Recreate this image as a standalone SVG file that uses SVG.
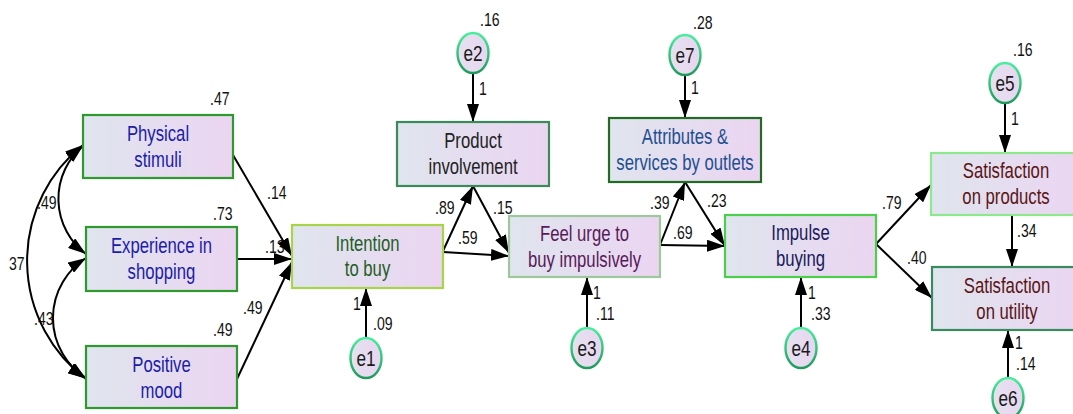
<svg xmlns="http://www.w3.org/2000/svg" width="1073" height="414" viewBox="0 0 1073 414">
  <defs>
    <linearGradient id="boxFill" x1="0" y1="0" x2="1" y2="0">
      <stop offset="0" stop-color="#dfe5ee"/>
      <stop offset="1" stop-color="#ebd5f1"/>
    </linearGradient>
    <linearGradient id="errFill" x1="0" y1="0" x2="1" y2="0">
      <stop offset="0" stop-color="#e4e2f0"/>
      <stop offset="1" stop-color="#e9d5ef"/>
    </linearGradient>
    <linearGradient id="errStroke" x1="0" y1="0" x2="0" y2="1">
      <stop offset="0" stop-color="#45f09c"/>
      <stop offset="1" stop-color="#1f9a5c"/>
    </linearGradient>
    <marker id="ah" viewBox="0 0 18 12" refX="18" refY="6" markerWidth="18" markerHeight="12" orient="auto-start-reverse" markerUnits="userSpaceOnUse">
      <path d="M0,0 L18,6 L0,12 z" fill="#000"/>
    </marker>
  </defs>
  <style>
    .box { fill: url(#boxFill); stroke-width: 2.2; }
    .err { fill: url(#errFill); stroke: url(#errStroke); stroke-width: 2.4; }
    .lbl { font-family: "Liberation Sans", Arial, sans-serif; font-size: 22px; text-anchor: middle; }
    .etx { font-family: "Liberation Sans", Arial, sans-serif; font-size: 22px; text-anchor: middle; fill: #1a1a1a; }
    .num { font-family: "Liberation Sans", Arial, sans-serif; font-size: 18px; fill: #111; }
    .path { fill: none; stroke: #000; stroke-width: 2; marker-end: url(#ah); }
    .cov { fill: none; stroke: #000; stroke-width: 2; marker-start: url(#ah); marker-end: url(#ah); }
  </style>

  <rect width="1073" height="414" fill="#ffffff"/>

  <!-- coefficient labels (drawn under the connectors) -->
  <g id="labels">
    <text class="num" transform="translate(210 105) scale(.78 1)">.47</text>
    <text class="num" transform="translate(213 220) scale(.78 1)">.73</text>
    <text class="num" transform="translate(213 336) scale(.78 1)">.49</text>
    <text class="num" transform="translate(37 209) scale(.78 1)">.49</text>
    <text class="num" transform="translate(9 270) scale(.78 1)">37</text>
    <text class="num" transform="translate(34 325) scale(.78 1)">.43</text>
    <text class="num" transform="translate(267 199) scale(.78 1)">.14</text>
    <text class="num" transform="translate(265 253) scale(.78 1)">.13</text>
    <text class="num" transform="translate(243 314) scale(.78 1)">.49</text>
    <text class="num" transform="translate(480 26) scale(.78 1)">.16</text>
    <text class="num" transform="translate(479 95) scale(.78 1)">1</text>
    <text class="num" transform="translate(435 214) scale(.78 1)">.89</text>
    <text class="num" transform="translate(493 214) scale(.78 1)">.15</text>
    <text class="num" transform="translate(458 244) scale(.78 1)">.59</text>
    <text class="num" transform="translate(353 310) scale(.78 1)">1</text>
    <text class="num" transform="translate(373 330) scale(.78 1)">.09</text>
    <text class="num" transform="translate(693 29) scale(.78 1)">.28</text>
    <text class="num" transform="translate(691 94) scale(.78 1)">1</text>
    <text class="num" transform="translate(650 209) scale(.78 1)">.39</text>
    <text class="num" transform="translate(707 207) scale(.78 1)">.23</text>
    <text class="num" transform="translate(673 239) scale(.78 1)">.69</text>
    <text class="num" transform="translate(593 299) scale(.78 1)">1</text>
    <text class="num" transform="translate(596 320) scale(.78 1)">.11</text>
    <text class="num" transform="translate(1013 56) scale(.78 1)">.16</text>
    <text class="num" transform="translate(1011 125) scale(.78 1)">1</text>
    <text class="num" transform="translate(882 209) scale(.78 1)">.79</text>
    <text class="num" transform="translate(907 264) scale(.78 1)">.40</text>
    <text class="num" transform="translate(1017 237) scale(.78 1)">.34</text>
    <text class="num" transform="translate(808 299) scale(.78 1)">1</text>
    <text class="num" transform="translate(811 320) scale(.78 1)">.33</text>
    <text class="num" transform="translate(1015 349) scale(.78 1)">1</text>
    <text class="num" transform="translate(1016 370) scale(.78 1)">.14</text>
  </g>

  <!-- connectors -->
  <g id="connectors">
    <!-- covariances between the exogenous variables -->
    <path class="cov" d="M83,146 A69,69 0 0 0 86,254"/>
    <path class="cov" d="M86,258 A71,71 0 0 0 86,378"/>
    <path class="cov" d="M83,145 A148,148 0 0 0 86,379"/>
    <!-- structural paths -->
    <path class="path" d="M233,155 L292,256"/>
    <path class="path" d="M237,259 L292,259"/>
    <path class="path" d="M237,379 L292,262"/>
    <path class="path" d="M443,251 L473,186"/>
    <path class="path" d="M473,186 L509,253"/>
    <path class="path" d="M443,252 L509,256"/>
    <path class="path" d="M660,245 L685,182"/>
    <path class="path" d="M685,182 L725,246"/>
    <path class="path" d="M660,245 L725,246"/>
    <path class="path" d="M876,244 L931,185"/>
    <path class="path" d="M876,244 L932,298"/>
    <path class="path" d="M1012,215 L1012,267"/>
    <!-- error terms -->
    <path class="path" d="M473,73 L473,122"/>
    <path class="path" d="M366,338 L366,288"/>
    <path class="path" d="M685,75 L685,118"/>
    <path class="path" d="M587,328 L587,277"/>
    <path class="path" d="M801,328 L801,277"/>
    <path class="path" d="M1005,103 L1005,153"/>
    <path class="path" d="M1008,378 L1008,330"/>
  </g>

  <!-- observed variables -->
  <g id="physical-stimuli">
    <rect class="box" x="83" y="115" width="150" height="63" stroke="#2e9a2e"/>
    <text class="lbl" fill="#1c1ca8" transform="translate(158 141) scale(.76 1)">Physical</text>
    <text class="lbl" fill="#1c1ca8" transform="translate(158 167) scale(.76 1)">stimuli</text>
  </g>
  <g id="experience-in-shopping">
    <rect class="box" x="86" y="227" width="151" height="64" stroke="#2e9a2e"/>
    <text class="lbl" fill="#1c1ca8" transform="translate(161.5 253) scale(.76 1)">Experience in</text>
    <text class="lbl" fill="#1c1ca8" transform="translate(161.5 279) scale(.76 1)">shopping</text>
  </g>
  <g id="positive-mood">
    <rect class="box" x="86" y="346" width="151" height="62" stroke="#2e9a2e"/>
    <text class="lbl" fill="#1c1ca8" transform="translate(161.5 372) scale(.76 1)">Positive</text>
    <text class="lbl" fill="#1c1ca8" transform="translate(161.5 398) scale(.76 1)">mood</text>
  </g>
  <g id="intention-to-buy">
    <rect class="box" x="292" y="225" width="151" height="63" stroke="#a8d44a"/>
    <text class="lbl" fill="#1f5f1f" transform="translate(367.5 251) scale(.76 1)">Intention</text>
    <text class="lbl" fill="#1f5f1f" transform="translate(367.5 276) scale(.76 1)">to buy</text>
  </g>
  <g id="product-involvement">
    <rect class="box" x="397" y="122" width="152" height="64" stroke="#3a8a5a"/>
    <text class="lbl" fill="#222222" transform="translate(473 148) scale(.76 1)">Product</text>
    <text class="lbl" fill="#222222" transform="translate(473 174) scale(.76 1)">involvement</text>
  </g>
  <g id="feel-urge">
    <rect class="box" x="509" y="216" width="151" height="61" stroke="#9cc89c"/>
    <text class="lbl" fill="#5a1a5a" transform="translate(584.5 241) scale(.76 1)">Feel urge to</text>
    <text class="lbl" fill="#5a1a5a" transform="translate(584.5 267) scale(.76 1)">buy impulsively</text>
  </g>
  <g id="attributes-services">
    <rect class="box" x="609" y="118" width="152" height="64" stroke="#226b22"/>
    <text class="lbl" fill="#1f4f8f" transform="translate(685 144) scale(.76 1)">Attributes &amp;</text>
    <text class="lbl" fill="#1f4f8f" transform="translate(685 170) scale(.76 1)">services by outlets</text>
  </g>
  <g id="impulse-buying">
    <rect class="box" x="725" y="215" width="151" height="62" stroke="#4cd04c"/>
    <text class="lbl" fill="#1a1a5a" transform="translate(800.5 240) scale(.76 1)">Impulse</text>
    <text class="lbl" fill="#1a1a5a" transform="translate(800.5 266) scale(.76 1)">buying</text>
  </g>
  <g id="satisfaction-products">
    <rect class="box" x="931" y="153" width="150" height="62" stroke="#8ee88e"/>
    <text class="lbl" fill="#5a1515" transform="translate(1006 178) scale(.76 1)">Satisfaction</text>
    <text class="lbl" fill="#5a1515" transform="translate(1006 204) scale(.76 1)">on products</text>
  </g>
  <g id="satisfaction-utility">
    <rect class="box" x="932" y="267" width="150" height="63" stroke="#3a8a5f"/>
    <text class="lbl" fill="#5a1515" transform="translate(1007 293) scale(.76 1)">Satisfaction</text>
    <text class="lbl" fill="#5a1515" transform="translate(1007 319) scale(.76 1)">on utility</text>
  </g>

  <!-- error terms -->
  <g id="e1">
    <ellipse class="err" cx="366" cy="358" rx="15.5" ry="20"/>
    <text class="etx" transform="translate(366 366) scale(.78 1)">e1</text>
  </g>
  <g id="e2">
    <ellipse class="err" cx="473" cy="53" rx="15.5" ry="20"/>
    <text class="etx" transform="translate(473 61) scale(.78 1)">e2</text>
  </g>
  <g id="e3">
    <ellipse class="err" cx="587" cy="348" rx="15.5" ry="20"/>
    <text class="etx" transform="translate(587 356) scale(.78 1)">e3</text>
  </g>
  <g id="e4">
    <ellipse class="err" cx="801" cy="348" rx="15.5" ry="20"/>
    <text class="etx" transform="translate(801 356) scale(.78 1)">e4</text>
  </g>
  <g id="e5">
    <ellipse class="err" cx="1005" cy="83" rx="15.5" ry="20"/>
    <text class="etx" transform="translate(1005 91) scale(.78 1)">e5</text>
  </g>
  <g id="e6">
    <ellipse class="err" cx="1008" cy="398" rx="15.5" ry="20"/>
    <text class="etx" transform="translate(1008 406) scale(.78 1)">e6</text>
  </g>
  <g id="e7">
    <ellipse class="err" cx="685" cy="55" rx="15.5" ry="20"/>
    <text class="etx" transform="translate(685 63) scale(.78 1)">e7</text>
  </g>
</svg>
